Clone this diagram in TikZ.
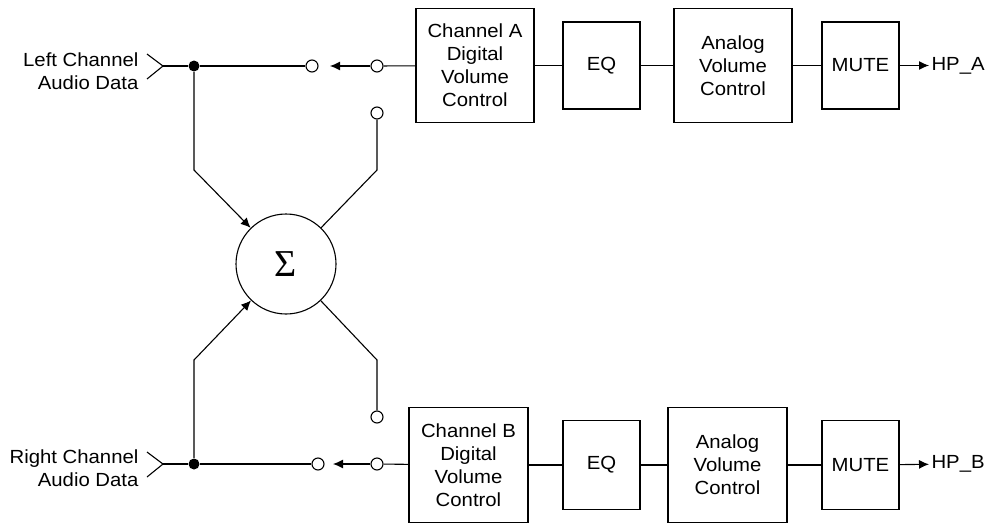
\documentclass[tikz,border=0pt]{standalone}
\usepackage{fontspec}
\setmainfont{Liberation Sans}[FakeStretch=1.07]
\newfontfamily\sigmafont{Liberation Serif}
\usetikzlibrary{arrows.meta}
\tikzstyle{blk} = [draw=black, fill=white, align=center, inner sep=0pt]
\tikzstyle{tap} = [draw=black, fill=white, circle, inner sep=0pt, minimum size=12pt]
\tikzstyle{junc} = [fill=black, circle, inner sep=0pt, minimum size=11pt]
\tikzstyle{ptlabel} = [anchor=east, align=right, inner sep=0pt]
\tikzstyle{arr} = [-{Latex[length=10pt, width=9pt]}]
\tikzset{font={\fontsize{19}{23}\selectfont}}

\begin{document}
\begin{tikzpicture}[x=1pt, y=-1pt, line width=1.1pt]
  \useasboundingbox (0,0) rectangle (990,525);

  % summing node
  \node[at={(286,264)}, circle, draw, minimum size=100pt, inner sep=0pt] (sum) {\sigmafont\fontsize{38}{38}\selectfont Σ};

  % channel A
  \begin{scope}
    \node[at={(139,71)}, ptlabel] (lblL) {Left Channel\\Audio Data};
    \coordinate (inL) at (163,66);
    \draw ([shift={(-16,-12)}]inL) -- (inL) -- ([shift={(-16,13)}]inL);
    \node[at={(194,66)}, junc] (dotL) {};
    \node[at={(312,66)}, tap] (swL1) {};
    \node[at={(377,66)}, tap] (swL2) {};
    \node[at={(377,113)}, tap] (swL3) {};
    \coordinate (tipL) at (330,66);
    \coordinate (kL) at (194,170);
    \coordinate (jL) at (377,170);
    \node[at={(475,65.5)}, blk, minimum width=118pt, minimum height=114pt] (dvcA) {Channel A\\Digital\\Volume\\Control};
    \node[at={(601.5,65.5)}, blk, minimum width=77pt, minimum height=87pt] (eqA) {EQ};
    \node[at={(733,65.5)}, blk, minimum width=118pt, minimum height=114pt] (avcA) {Analog\\Volume\\Control};
    \node[at={(860.5,65.5)}, blk, minimum width=77pt, minimum height=87pt] (muteA) {MUTE};
    \node[at={(929,65.5)}, anchor=west, inner sep=2pt] (hpA) {HP\_A};

    \draw (inL) -- (dotL);
    \draw (dotL) -- (swL1);
    \draw[arr] (swL2) -- (tipL);
    \draw (swL2) -- (dvcA);
    \draw (dvcA) -- (eqA);
    \draw (eqA) -- (avcA);
    \draw (avcA) -- (muteA);
    \draw[arr] (muteA) -- (hpA);
    \draw[arr] (dotL) -- (kL) -- (sum);
    \draw (swL3) -- (jL) -- (sum);
  \end{scope}

  % channel B
  \begin{scope}
    \node[at={(139,468)}, ptlabel] (lblR) {Right Channel\\Audio Data};
    \coordinate (inR) at (163,464);
    \draw ([shift={(-16,-12)}]inR) -- (inR) -- ([shift={(-16,13)}]inR);
    \node[at={(194,464)}, junc] (dotR) {};
    \node[at={(318,464)}, tap] (swR1) {};
    \node[at={(377,464)}, tap] (swR2) {};
    \node[at={(377,417)}, tap] (swR3) {};
    \coordinate (tipR) at (333,464);
    \coordinate (kR) at (194,360);
    \coordinate (jR) at (377,360);
    \node[at={(468.5,465)}, blk, minimum width=119pt, minimum height=115pt] (dvcB) {Channel B\\Digital\\Volume\\Control};
    \node[at={(601.5,465)}, blk, minimum width=77pt, minimum height=89pt] (eqB) {EQ};
    \node[at={(727.5,465)}, blk, minimum width=119pt, minimum height=115pt] (avcB) {Analog\\Volume\\Control};
    \node[at={(860.5,465)}, blk, minimum width=77pt, minimum height=89pt] (muteB) {MUTE};
    \node[at={(929,464)}, anchor=west, inner sep=2pt] (hpB) {HP\_B};

    \draw (inR) -- (dotR);
    \draw (dotR) -- (swR1);
    \draw[arr] (swR2) -- (tipR);
    \draw (swR2) -- (dvcB);
    \draw (dvcB) -- (eqB);
    \draw (eqB) -- (avcB);
    \draw (avcB) -- (muteB);
    \draw[arr] (muteB) -- (hpB);
    \draw[arr] (dotR) -- (kR) -- (sum);
    \draw (swR3) -- (jR) -- (sum);
  \end{scope}
\end{tikzpicture}
\end{document}
